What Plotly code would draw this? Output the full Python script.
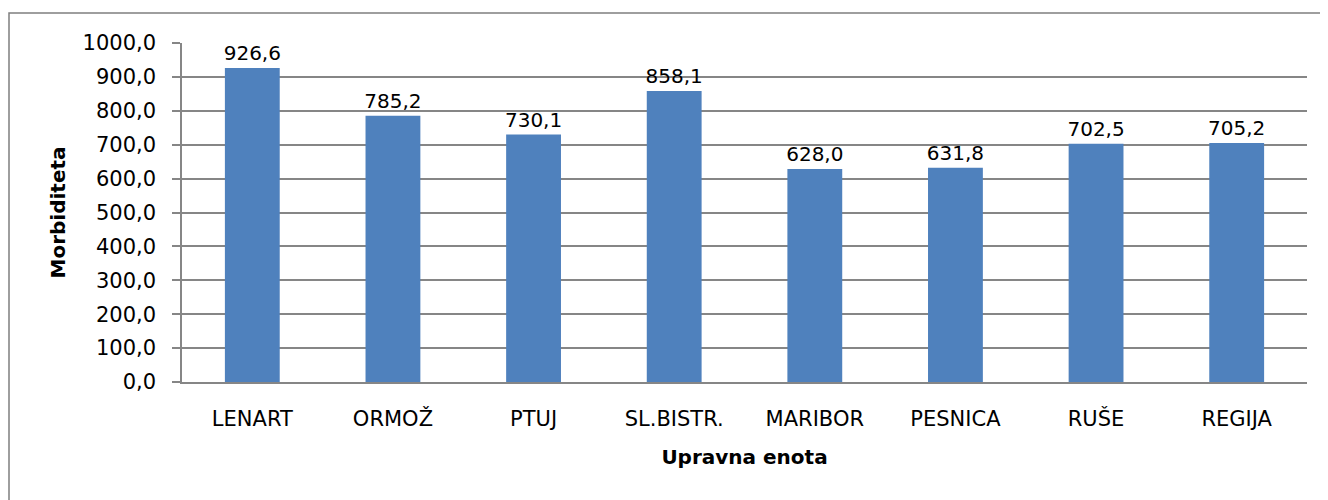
import plotly.graph_objects as go

categories = ["LENART", "ORMOŽ", "PTUJ", "SL.BISTR.", "MARIBOR", "PESNICA", "RUŠE", "REGIJA"]
values = [926.6, 785.2, 730.1, 858.1, 628.0, 631.8, 702.5, 705.2]
y_ticks = [0, 100, 200, 300, 400, 500, 600, 700, 800, 900, 1000]

# page body has an 8px margin; figure starts at (8, 8)
OFF = 8
W, H = 1328 - OFF, 500 - OFF
L, R, T, B = 182 - OFF, 21, 43 - OFF, 118
pw, ph = W - L - R, H - T - B

FONT = "DejaVu Sans"
BAR = "#4F81BD"
GRID = "#868686"

fig = go.Figure()
fig.add_trace(go.Bar(
    x=categories, y=values,
    marker=dict(color=BAR, line=dict(width=0)),
    texttemplate="%{y:.1f}", textposition="outside",
    textfont=dict(family=FONT, size=20, color="#000000"),
    constraintext="none",
    cliponaxis=False,
))

# outer frame (pixel positions converted to paper coordinates)
fx0, fy0 = 9 - OFF, 13 - OFF
fig.add_shape(type="rect", xref="paper", yref="paper",
              x0=(fx0 - L) / pw, x1=(W + 20 - L) / pw,
              y0=-(B + 20) / ph, y1=(H - B - fy0) / ph,
              line=dict(color="#7F7F7F", width=1.5), fillcolor="rgba(0,0,0,0)", layer="below")

fig.update_layout(
    width=W, height=H,
    margin=dict(l=L, r=R, t=T, b=B),
    paper_bgcolor="white", plot_bgcolor="white",
    separators=",.",
    bargap=0.61,
    showlegend=False,
    font=dict(family=FONT, size=21, color="#000000"),
    xaxis=dict(
        showline=True, linecolor=GRID, linewidth=1.5,
        ticks="", showgrid=False,
        tickfont=dict(family=FONT, size=21),
        ticklabelstandoff=17,
        title=dict(text="<b>Upravna enota</b>", font=dict(family=FONT, size=20), standoff=20),
    ),
    yaxis=dict(
        range=[0, 1000], tickvals=y_ticks, tickformat=".1f",
        showline=True, linecolor=GRID, linewidth=1.5,
        showgrid=True, gridcolor=GRID, gridwidth=1.5,
        ticks="outside", ticklen=8, tickcolor=GRID, tickwidth=1.5,
        tickfont=dict(family=FONT, size=21),
        ticklabelstandoff=12,
        zeroline=False,
        title=dict(text="<b>Morbiditeta</b>", font=dict(family=FONT, size=20), standoff=12),
    ),
)

fig.write_html("out.html")
